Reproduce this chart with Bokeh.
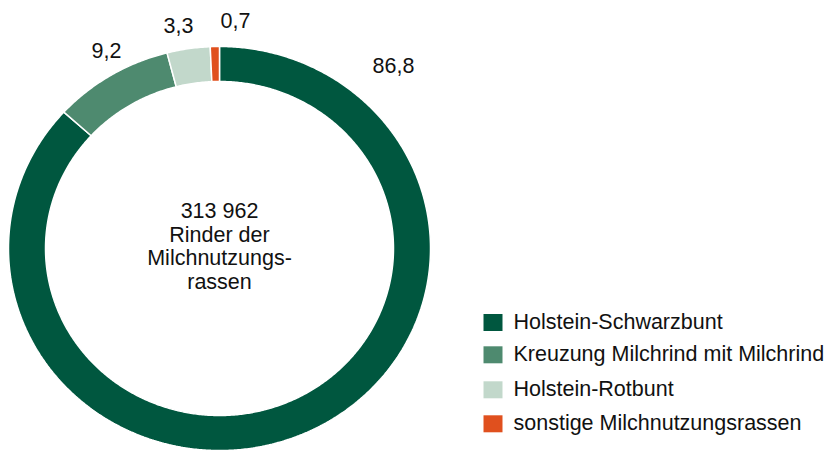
import numpy as np
from bokeh.plotting import figure
from bokeh.models import Range1d, ColumnDataSource
from bokeh.core.properties import value
from bokeh.embed import file_html
from bokeh.resources import INLINE

# ---- data ----
categories = ["Holstein-Schwarzbunt", "Kreuzung Milchrind mit Milchrind",
              "Holstein-Rotbunt", "sonstige Milchnutzungsrassen"]
shares = [86.8, 9.2, 3.3, 0.7]
share_labels = ["86,8", "9,2", "3,3", "0,7"]
colors = ["#00573F", "#4E8A6F", "#C2D8CB", "#E0501E"]
center_lines = ["313 962", "Rinder der", "Milchnutzungs-", "rassen"]

# ---- layout (pixel-like data space, y downwards) ----
W, H = 832, 452
FONT = "Liberation Sans"
FS = "21.5px"
cx, cy = 219, 248
rx_o, ry_o = 211, 202
rx_i, ry_i = 174, 167
label_x = [393, 106, 178, 235]
label_y = [64.5, 50, 25, 20]
center_y = [210.5, 234.2, 257.8, 281.3]
leg_x, leg_text_x = 492.5, 513
leg_y = [322, 354.3, 389.3, 423.3]

p = figure(width=W, height=H, output_backend="svg", toolbar_location=None,
           x_range=Range1d(0, W), y_range=Range1d(H, 0), min_border=0,
           x_axis_location=None, y_axis_location=None)
p.grid.visible = False
p.outline_line_color = None
p.background_fill_color = "white"
p.border_fill_color = "white"

# wedges of the ring, clockwise from 12 o'clock
total = sum(shares)
bounds = np.concatenate([[0], np.cumsum(shares)]) / total * 2 * np.pi
xs, ys = [], []
for a0, a1 in zip(bounds[:-1], bounds[1:]):
    t = np.linspace(a0, a1, max(int((a1 - a0) * 120), 4))
    ox = cx + rx_o * np.sin(t)
    oy = cy - ry_o * np.cos(t)
    ix = cx + rx_i * np.sin(t[::-1])
    iy = cy - ry_i * np.cos(t[::-1])
    xs.append(np.concatenate([ox, ix]).tolist())
    ys.append(np.concatenate([oy, iy]).tolist())

src = ColumnDataSource(dict(xs=xs, ys=ys, color=colors, cat=categories))
p.patches("xs", "ys", source=src, fill_color="color", line_color="white", line_width=1.5)

# value labels
p.text(x=label_x, y=label_y, text=share_labels, text_font=value(FONT),
       text_font_size=FS, text_align="center", text_baseline="middle", text_color="#111111")

# centre text
p.text(x=[cx] * len(center_lines), y=center_y, text=center_lines, text_font=value(FONT),
       text_font_size=FS, text_align="center", text_baseline="middle", text_color="#111111")

# legend
p.rect(x=[leg_x] * 4, y=leg_y, width=19, height=17, fill_color=colors, line_color=None)
p.text(x=[leg_text_x] * 4, y=[v - 0.5 for v in leg_y], text=categories, text_font=value(FONT),
       text_font_size=FS, text_align="left", text_baseline="middle", text_color="#111111")

open("out.html", "w").write(file_html(p, INLINE))
